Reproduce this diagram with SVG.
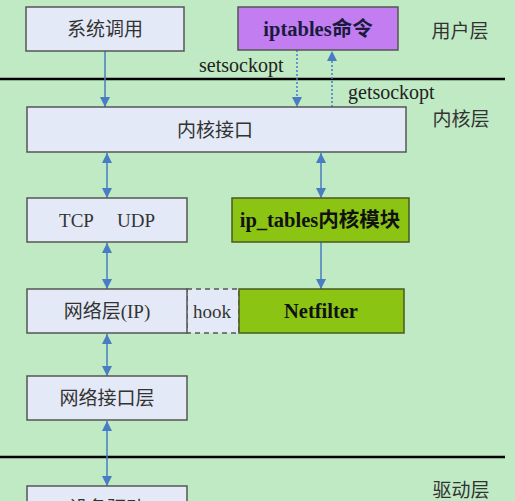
<svg xmlns="http://www.w3.org/2000/svg" width="515" height="501" viewBox="0 0 515 501">
<defs>
<style>
.box{fill:#e4e9f7;stroke:#555;stroke-width:1.5}
.pur{fill:#c27ef0;stroke:#555;stroke-width:1.5}
.grn{fill:#8bc413;stroke:#4a5a20;stroke-width:1.5}
.t{font-family:"Liberation Serif","Noto Sans CJK SC",serif;font-size:19px;fill:#333;text-anchor:middle;dominant-baseline:central}
.b{font-weight:bold;fill:#111;font-size:20.5px}
.lay{font-family:"Noto Sans CJK SC",sans-serif;font-size:19px;fill:#333;text-anchor:middle;dominant-baseline:central}
.lbl{font-family:"Liberation Serif",serif;font-size:20px;fill:#222}
.c{stroke:#4a7cc4;stroke-width:1.5;fill:none}
.d{stroke:#4a7cc4;stroke-width:1.5;fill:none;stroke-dasharray:2 2}
.sep{stroke:#000;stroke-width:2.5}
</style>
<marker id="a" viewBox="0 0 10 10" refX="10" refY="5" markerWidth="10" markerHeight="11" markerUnits="userSpaceOnUse" orient="auto-start-reverse">
<path d="M0,0 L10,5 L0,10 z" fill="#4a7cc4"/>
</marker>
</defs>
<rect width="515" height="501" fill="#bfeac4"/>
<line class="sep" x1="0" y1="79" x2="505" y2="79"/>
<line class="sep" x1="0" y1="457" x2="505" y2="457"/>
<text class="lay" x="460" y="29">用户层</text>
<text class="lay" x="461" y="117">内核层</text>
<text class="lay" x="461" y="488">驱动层</text>
<text class="lbl" x="199" y="72">setsockopt</text>
<text class="lbl" x="348" y="99">getsockopt</text>
<g id="connectors">
<line class="c" x1="105" y1="51" x2="105" y2="107" marker-end="url(#a)"/>
<line class="d" x1="297" y1="50" x2="297" y2="107" marker-end="url(#a)"/>
<line class="d" x1="332" y1="107" x2="332" y2="51" marker-end="url(#a)"/>
<line class="c" x1="107" y1="153" x2="107" y2="198" marker-start="url(#a)" marker-end="url(#a)"/>
<line class="c" x1="321" y1="153" x2="321" y2="198" marker-start="url(#a)" marker-end="url(#a)"/>
<line class="c" x1="107" y1="243" x2="107" y2="289" marker-start="url(#a)" marker-end="url(#a)"/>
<line class="c" x1="321" y1="242" x2="321" y2="289" marker-end="url(#a)"/>
<line class="c" x1="107" y1="334" x2="107" y2="376" marker-start="url(#a)" marker-end="url(#a)"/>
<line class="c" x1="107" y1="421" x2="107" y2="486" marker-start="url(#a)" marker-end="url(#a)"/>
</g>
<g id="syscall"><rect class="box" x="26" y="7" width="158" height="44"/><text class="t" x="105" y="29">系统调用</text></g>
<g id="iptables-cmd"><rect class="pur" x="238" y="7" width="160" height="43"/><text class="t b" x="318" y="29" style="fill:#1a1a40">iptables命令</text></g>
<g id="kernel-if"><rect class="box" x="27" y="107" width="379" height="45"/><text class="t" x="215" y="130">内核接口</text></g>
<g id="tcpudp"><rect class="box" x="27" y="198" width="160" height="44"/><text class="t" x="107" y="220" xml:space="preserve">TCP     UDP</text></g>
<g id="ip_tables"><rect class="grn" x="232" y="198" width="177" height="44"/><text class="t b" x="320" y="220">ip_tables内核模块</text></g>
<g id="hook"><rect x="187" y="289" width="52" height="44" fill="#e4e9f7" stroke="#555" stroke-width="1.5" stroke-dasharray="5 4"/><text class="t" x="212" y="311">hook</text></g>
<g id="netlayer"><rect class="box" x="27" y="289" width="160" height="44"/><text class="t" x="107" y="311">网络层(IP)</text></g>
<g id="netfilter"><rect class="grn" x="239" y="289" width="165" height="44"/><text class="t b" x="321" y="311">Netfilter</text></g>
<g id="netif"><rect class="box" x="27" y="376" width="160" height="44"/><text class="t" x="107" y="398">网络接口层</text></g>
<g id="driver"><rect class="box" x="27" y="486" width="160" height="44"/><text class="t" x="107" y="508">设备驱动</text></g>
</svg>
